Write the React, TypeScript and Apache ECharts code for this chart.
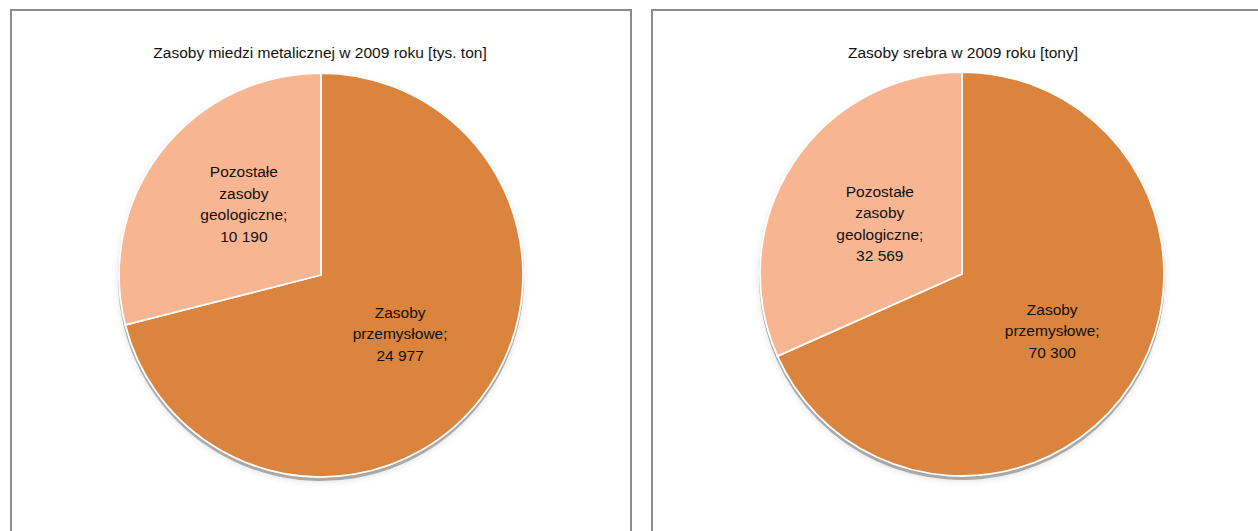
import React, { useEffect, useRef } from "react";
import * as echarts from "echarts";

const copperTitle = "Zasoby miedzi metalicznej w 2009 roku [tys. ton]";
const silverTitle = "Zasoby srebra w 2009 roku [tony]";
const categories = ["Zasoby\nprzemysłowe", "Pozostałe\nzasoby\ngeologiczne"];
const copperValues = [24977, 10190];
const silverValues = [70300, 32569];
const sliceColors = ["#DB843D", "#F8B592"];

const fmt = (v: number) => String(v).replace(/\B(?=(\d{3})+(?!\d))/g, " ");

function pieSeries(
  values: number[],
  center: [number, number],
  labelOffsets: [number, number][]
) {
  const base = categories.map((name, i) => ({
    name,
    value: values[i],
    itemStyle: { color: sliceColors[i] },
  }));
  const shadowData = categories.map((name, i) => ({ name, value: values[i] }));
  const labelled = base.map((d, i) => ({
    ...d,
    label: { offset: labelOffsets[i] },
  }));
  return [
    {
      type: "pie",
      silent: true,
      z: 1,
      center: [center[0], center[1] + 3],
      radius: 203,
      startAngle: 90,
      clockwise: true,
      label: { show: false },
      labelLine: { show: false },
      itemStyle: {
        color: "rgba(0,0,0,0.28)",
        borderWidth: 0,
        shadowBlur: 6,
        shadowOffsetY: 1,
        shadowColor: "rgba(0,0,0,0.4)",
      },
      data: shadowData,
    },
    {
      type: "pie",
      z: 2,
      center,
      radius: 202,
      startAngle: 90,
      clockwise: true,
      itemStyle: { borderColor: "#ffffff", borderWidth: 1.8 },
      label: {
        show: true,
        position: "inside",
        color: "#111",
        fontFamily: "Liberation Sans, Arial, sans-serif",
        fontSize: 15.5,
        lineHeight: 21.5,
        align: "center",
        formatter: (p: any) => `${p.name};\n${fmt(p.value)}`,
      },
      labelLine: { show: false },
      emphasis: { disabled: true },
      data: labelled,
    },
  ];
}

export default function App() {
  const ref = useRef<HTMLDivElement>(null);
  useEffect(() => {
    if (!ref.current) return;
    const chart = echarts.init(ref.current, undefined, { renderer: "svg" });
    const titleStyle = {
      fontFamily: "Liberation Sans, Arial, sans-serif",
      fontSize: 15.5,
      fontWeight: "normal",
      color: "#111",
    };
    chart.setOption({
      animation: false,
      backgroundColor: "#ffffff",
      title: [
        { text: copperTitle, left: 315, top: 39, textAlign: "center", textStyle: titleStyle },
        { text: silverTitle, left: 958, top: 39, textAlign: "center", textStyle: titleStyle },
      ],
      graphic: [
        {
          type: "rect",
          z: 0,
          shape: { x: 11, y: 10, width: 620, height: 600 },
          style: { fill: "none", stroke: "#8c8c8c", lineWidth: 2 },
        },
        {
          type: "rect",
          z: 0,
          shape: { x: 652, y: 10, width: 700, height: 600 },
          style: { fill: "none", stroke: "#8c8c8c", lineWidth: 2 },
        },
      ],
      series: [
        ...pieSeries(copperValues, [321, 275], [[-3, -5], [5, -7]]),
        ...pieSeries(silverValues, [962, 274], [[3, 0], [5, 6]]),
      ],
    });
    return () => chart.dispose();
  }, []);
  return (
    <div
      ref={ref}
      style={{ position: "fixed", left: 0, top: 0, width: 1258, height: 531 }}
    />
  );
}
